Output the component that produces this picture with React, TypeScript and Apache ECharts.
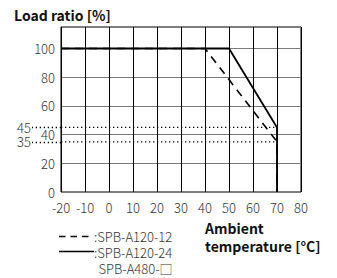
import React, { useEffect, useRef } from "react";
import * as echarts from "echarts";

const xTicks = [-20, -10, 0, 10, 20, 30, 40, 50, 60, 70, 80];
const yTicks = [0, 20, 40, 60, 80, 100];
const markValues = [35, 45];
const seriesA120_12: [number, number][] = [[-20, 100], [40, 100], [70, 35], [70, 0]];
const seriesA120_24: [number, number][] = [[-20, 100], [50, 100], [70, 45], [70, 0]];
const legendNames = ["SPB-A120-12", "SPB-A120-24", "SPB-A480-□"];
const FONT = "'Noto Sans CJK JP', 'Noto Sans', sans-serif";
const TXT = "#333";

export default function App() {
  const ref = useRef<HTMLDivElement>(null);
  useEffect(() => {
    if (!ref.current) return;
    const chart = echarts.init(ref.current, undefined, { renderer: "svg" });
    const dotted = markValues.map((v) => ({
      type: "line",
      data: [[-20, v], [70, v]],
      showSymbol: false,
      symbol: "none",
      silent: true,
      lineStyle: { color: "#000", width: 1.3, type: [1.3, 2.7] },
      z: 3,
    }));
    chart.setOption({
      animation: false,
      textStyle: { fontFamily: FONT },
      grid: { left: 61, right: 36, top: 27, bottom: 86, show: true, borderColor: "#000", borderWidth: 1, backgroundColor: "transparent" },
      xAxis: {
        type: "value",
        min: -20,
        max: 80,
        interval: 10,
        axisLine: { show: false },
        axisTick: { show: false },
        axisLabel: { margin: 9, fontSize: 13, color: TXT, fontFamily: FONT, fontWeight: 300 },
        splitLine: { show: true, lineStyle: { color: "#000", width: 1 } },
      },
      yAxis: [
        {
          type: "value",
          min: 0,
          max: 115,
          interval: 20,
          axisLine: { show: false },
          axisTick: { show: false },
          axisLabel: {
            margin: 6,
            fontSize: 13,
            lineHeight: 12,
            color: TXT,
            fontFamily: FONT,
            fontWeight: 300,
            formatter: (v: number) => (yTicks.includes(v) ? String(v) : ""),
          },
          splitLine: { show: true, lineStyle: { color: "#7a7a7a", width: 1 } },
        },
        {
          type: "value",
          position: "left",
          min: 0,
          max: 115,
          axisLine: { show: false },
          splitLine: { show: false },
          axisTick: {
            show: true,
            length: 29,
            customValues: markValues,
            lineStyle: { color: "#000", width: 1.3, type: [1.3, 2.7] },
          },
          axisLabel: {
            show: true,
            margin: 30,
            fontSize: 13,
            lineHeight: 12,
            color: TXT,
            fontFamily: FONT,
            fontWeight: 300,
            customValues: markValues,
          },
        },
      ],
      series: [
        ...dotted,
        {
          name: legendNames[0],
          type: "line",
          data: seriesA120_12,
          symbol: "none",
          lineStyle: { color: "#000", width: 1.6, type: [8, 6] },
          z: 4,
        },
        {
          name: legendNames[1],
          type: "line",
          data: seriesA120_24,
          symbol: "none",
          lineStyle: { color: "#000", width: 1.8 },
          z: 5,
        },
      ],
      graphic: [
        { type: "text", left: 14, top: 8, style: { text: "Load ratio [%]", font: `bold 14px ${FONT}`, fill: "#111" } },
        { type: "text", left: 205, top: 219, style: { text: "Ambient\ntemperature [°C]", font: `bold 14px ${FONT}`, fill: "#111", lineHeight: 18 } },
        { type: "line", shape: { x1: 59, y1: 236.5, x2: 93, y2: 236.5 }, style: { stroke: "#000", lineWidth: 1.5, lineDash: [6.5, 5] } },
        { type: "line", shape: { x1: 59, y1: 251.5, x2: 94, y2: 251.5 }, style: { stroke: "#000", lineWidth: 1.5 } },
        { type: "text", x: 94, y: 236, style: { text: ":" + legendNames[0], font: `300 13px ${FONT}`, fill: TXT, verticalAlign: "middle", lineHeight: 13 } },
        { type: "text", x: 94, y: 252, style: { text: ":" + legendNames[1], font: `300 13px ${FONT}`, fill: TXT, verticalAlign: "middle", lineHeight: 13 } },
        { type: "text", x: 98.5, y: 268, style: { text: legendNames[2], font: `300 13px ${FONT}`, fill: TXT, verticalAlign: "middle", lineHeight: 13 } },
      ],
    });
    return () => chart.dispose();
  }, []);
  return <div ref={ref} style={{ width: 337, height: 278, position: "absolute", left: 0, top: 0 }} />;
}
